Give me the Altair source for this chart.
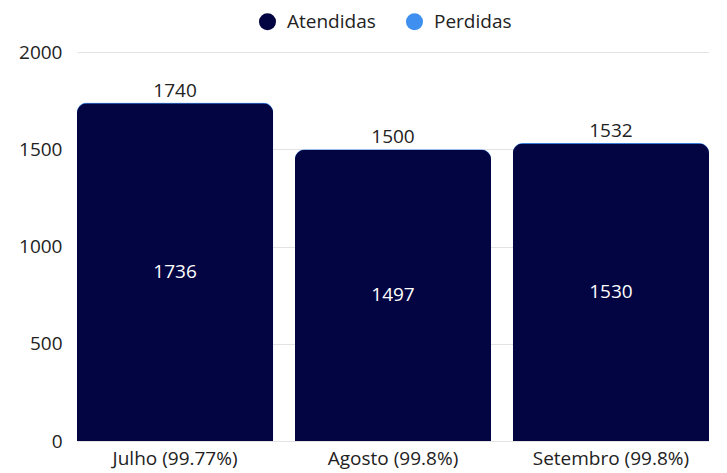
import altair as alt
import pandas as pd

meses = ["Julho (99.77%)", "Agosto (99.8%)", "Setembro (99.8%)"]
atendidas = [1736, 1497, 1530]
perdidas = [4, 3, 2]

series = ["Atendidas", "Perdidas"]
cores = ["#030542", "#3f8ff0"]
fonte = "Open Sans"
tam = 19

df = pd.DataFrame({"mes": meses, "atendidas": atendidas, "perdidas": perdidas})
df["total"] = df["atendidas"] + df["perdidas"]
df["meio"] = df["atendidas"] / 2

x = alt.X("mes:N", sort=meses, title=None,
          scale=alt.Scale(paddingInner=0.1, paddingOuter=0),
          axis=alt.Axis(labelAngle=0, ticks=False, domain=False, labelPadding=8,
                        labelFontSize=tam, labelColor="#222", labelFont=fonte))
cor = alt.Color("serie:N", scale=alt.Scale(domain=series, range=cores),
                legend=alt.Legend(title=None, orient="none", direction="horizontal",
                                  legendX=181, legendY=-40, symbolType="circle",
                                  symbolSize=290, labelFontSize=tam, labelFont=fonte,
                                  labelColor="#222", labelOffset=10, columnPadding=29))

base = alt.Chart(df).encode(x=x)

# barra de fundo (total) -> aparece como uma borda fina azul no topo
fundo = base.mark_bar(cornerRadiusTopLeft=10, cornerRadiusTopRight=10).encode(
    y=alt.Y("total:Q", title=None,
            scale=alt.Scale(domain=[0, 2000], nice=False),
            axis=alt.Axis(values=[0, 500, 1000, 1500, 2000], format="d", ticks=False,
                          domain=False, labelPadding=15, labelFontSize=tam,
                          labelColor="#222", labelFont=fonte, gridColor="#e3e3e3")),
    color=cor,
).transform_calculate(serie="'Perdidas'")

frente = base.mark_bar(cornerRadiusTopLeft=10, cornerRadiusTopRight=10).encode(
    y="atendidas:Q",
    color=cor,
).transform_calculate(serie="'Atendidas'")

rot_total = base.mark_text(baseline="bottom", dy=-2, fontSize=tam, font=fonte,
                           color="#222").encode(y="total:Q", text="total:Q")

rot_dentro = base.mark_text(baseline="middle", fontSize=tam, font=fonte,
                            color="white").encode(y="meio:Q", text="atendidas:Q")

chart = alt.layer(fundo, frente, rot_total, rot_dentro).properties(
    width=632, height=389,
    autosize=alt.AutoSizeParams(type="none"),
    padding={"left": 69, "top": 44, "right": 0, "bottom": 32},
).configure_view(stroke=None)

chart.save("out.html", embed_options={"renderer": "svg", "actions": False})
